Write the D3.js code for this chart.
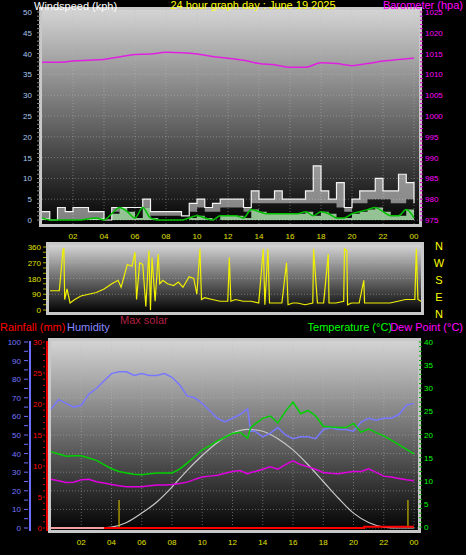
<!DOCTYPE html>
<html><head><meta charset="utf-8">
<script src="https://cdn.jsdelivr.net/npm/d3@7"></script>
<style>body{margin:0;background:#000}svg{display:block;font-family:"Liberation Sans",Arial,sans-serif}</style>
</head><body><div id="chart"></div>
<script>
// half-hourly wind (kph), hours 0..24
const windHours = d3.range(0, 24.5, 0.5);
const windGust = [2,0,3,2,3,3,2,2,0,3,3,3,3,5,2,2,2,2,1,4,5,3,4,5,5,5,3,7,5,5,7,5,5,5,7,13,7,5,9,3,5,7,7,10,7,7,11,9,4];
const windLow = [0,0,0,0,0,0,0,0,0,2,3,3,3,3,1,1,1,1,1,2,3,2,2,3,3,3,2,4,4,4,4,4,4,4,4,4,4,4,3,2,4,4,5,5,5,4,4,5,3];
const windAvg = [0.5,0,0,0,0,0,0.3,0.5,0,1.5,3,2,0.5,3,0.5,0,0,0,0,0.5,1,0.5,0,1,1,1,0.5,2.5,2,1.5,1.5,1.5,1.5,1.5,2,1,2,1.5,0.5,0.5,1.5,2,2.5,3,2,1,1,2.5,0.5];
// hourly barometer (hpa)
const baroHours = d3.range(0, 25);
const baro = [1012.9,1012.9,1013.2,1013.4,1013.6,1014.2,1014.8,1014.9,1015.3,1015.2,1014.9,1014.3,1013.9,1013.4,1012.6,1012.3,1011.7,1011.7,1012.8,1012.6,1012.1,1012.6,1013.2,1013.6,1013.9];
// wind direction [hour, degrees]
const dirHours = [0,0.6,0.85,0.9,0.95,1.1,1.3,1.6,2,2.5,3,3.5,4,4.4,4.6,5,5.3,5.5,5.6,5.8,6,6.2,6.4,6.5,6.6,6.8,7,7.1,7.3,7.6,8,8.3,8.6,9,9.3,9.5,9.7,9.8,10,10.5,11,11.5,11.6,11.7,12,12.5,13,13.5,13.8,13.9,14.1,14.2,14.5,15,15.3,15.4,15.7,16,16.5,17,17.05,17.3,17.7,18,18.05,18.5,19,19.05,19.2,19.25,19.5,20,20.3,20.35,20.7,21.5,22,22.5,23,23.6,23.7,23.8,24];
const dirVals = [110,110,350,350,60,120,40,60,80,90,100,120,150,170,130,260,250,330,60,270,260,20,340,0,300,50,320,150,170,150,140,160,130,190,180,90,350,60,70,60,50,50,300,50,60,50,50,40,350,30,350,40,40,40,270,30,40,40,30,40,350,40,40,320,40,40,50,350,340,30,40,40,170,40,40,40,40,50,60,60,350,60,50];
// humidity (%), temperature and dew point (°C)
const thHours = [0,0.5,1,1.5,2,2.5,3,3.5,4,4.5,5,5.5,6,6.5,7,7.5,8,8.5,9,9.5,10,10.5,11,11.5,12,12.5,13,13.2,13.5,14,14.5,15,15.5,16,16.5,17,17.5,18,18.5,19,19.5,20,20.5,21,21.5,22,22.5,23,23.5,24];
const humidity = [64,69,67,65,66,72,75,79,83,84,84,82,83,82,82,83,81,77,71,70,67,63,59,57,59,61,64,52,52,49,51,54,50,48,49,49,48,53,54,53,53,52,57,59,58,59,59,61,66,67];
const temperature = [16.3,15.8,15.3,15.4,15.4,14.9,14.4,13.5,12.6,12,11.7,11.4,11.3,11.5,11.7,11.7,11.7,12.5,13.8,15.2,16.7,17.6,18.6,19.4,20.2,20.5,19.2,21.5,22.3,23.5,24,22.5,25,27,24.5,25.2,24,21.8,21.6,21.5,21.5,22.4,20.5,21.2,20.4,19.7,18.8,17.8,16.8,15.8];
const dewPoint = [10.3,10,9.6,9.7,10.2,10.3,9.8,9.5,9.2,8.9,8.7,8.7,8.7,8.9,9.1,9.1,9.2,9.4,9.7,10.3,10.8,11,11.2,11.6,12,12.2,11.5,11.8,12,12.5,13,12.5,13.5,14.3,13.5,13,12.5,11.8,11.6,11.5,11.8,12,12,12.6,11.8,11,10.8,10.5,10.2,10];
const solarHours = d3.range(0, 25);
const maxSolar = [0,0,0,0,0.5,3,8,14,22,31,39,46,51,53,52,48,42,34,25,16,8,3,0.5,0,0];
const rainHours = [0,20.7,20.7,24];
const rain = [0,0,0.2,0.2];

const xLabels = ["02","04","06","08","10","12","14","16","18","20","22","00"];
const xTickHours = d3.range(2, 25, 2);

const W = 466, H = 555;
const svg = d3.select("#chart").append("svg").attr("width", W).attr("height", H);
const defs = svg.append("defs");
const grad = defs.append("linearGradient").attr("id", "bg").attr("x1", 0).attr("x2", 0).attr("y1", 0).attr("y2", 1);
grad.append("stop").attr("offset", "0%").attr("stop-color", "#d4d4d4");
grad.append("stop").attr("offset", "100%").attr("stop-color", "#030303");

function panel(x0, x1, y0, y1) {
	svg.append("rect").attr("x", x0 - 3).attr("y", y0 - 3).attr("width", x1 - x0 + 6).attr("height", y1 - y0 + 6).attr("fill", "#c8c8c8");
	svg.append("rect").attr("x", x0).attr("y", y0).attr("width", x1 - x0).attr("height", y1 - y0).attr("fill", "url(#bg)");
}
function text(x, y, s, color, size, anchor) {
	return svg.append("text").attr("x", x).attr("y", y).text(s).attr("fill", color)
		.attr("font-size", size).attr("text-anchor", anchor || "start");
}
function grid(x, yTicks, y, xTicks, x0, x1, y0, y1) {
	const g = svg.append("g").attr("stroke", "#bbb").attr("stroke-opacity", 0.45).attr("stroke-dasharray", "1,2");
	xTicks.forEach((h) => g.append("line").attr("x1", x(h)).attr("x2", x(h)).attr("y1", y0).attr("y2", y1));
	yTicks.forEach((v) => g.append("line").attr("x1", x0).attr("x2", x1).attr("y1", y(v)).attr("y2", y(v)));
}

// ---- top panel: wind + barometer
const xTop = d3.scaleLinear().domain([0, 24]).range([42, 414]);
const yWind = d3.scaleLinear().domain([0, 50]).range([220, 12]);
const yBaro = d3.scaleLinear().domain([975, 1025]).range([220, 12]);
panel(42, 419, 10, 224);
grid(xTop, d3.range(0, 51, 5), yWind, xTickHours, 42, 419, 10, 224);

d3.range(0, 51, 5).forEach((v) => text(32, yWind(v) + 3, v, "#a8c8f0", 8, "end"));
d3.range(0, 51).forEach((v) => svg.append("line").attr("x1", 37).attr("x2", 40).attr("y1", yWind(v)).attr("y2", yWind(v)).attr("stroke", "#888"));
d3.range(975, 1026, 5).forEach((v) => text(425, yBaro(v) + 3, v, "#f0f", 8));
d3.range(975, 1026).forEach((v) => svg.append("line").attr("x1", 420).attr("x2", 423).attr("y1", yBaro(v)).attr("y2", yBaro(v)).attr("stroke", "#c0c"));
xLabels.forEach((s, i) => text(xTop(xTickHours[i]), 239, s, "#e0e000", 8, "middle"));

text(34, 10, "Windspeed (kph)", "#fff", 11);
text(253, 9, "24 hour graph day : June 19 2025", "#ff0", 11, "middle");
text(463, 9, "Barometer (hpa)", "#f0f", 11, "end");

svg.append("path").datum(windGust)
	.attr("d", d3.area().x((d, i) => xTop(windHours[i])).y0((d, i) => yWind(windLow[i])).y1((d) => yWind(d)).curve(d3.curveStepAfter))
	.attr("fill", "#e8e8e8").attr("opacity", 0.55);
svg.append("path").datum(windAvg)
	.attr("d", d3.area().x((d, i) => xTop(windHours[i])).y0(yWind(0)).y1((d) => yWind(d)).curve(d3.curveStepAfter))
	.attr("fill", "#b8f0b8").attr("opacity", 0.8);
svg.append("path").datum(windGust)
	.attr("d", d3.line().x((d, i) => xTop(windHours[i])).y((d) => yWind(d)).curve(d3.curveStepAfter))
	.attr("fill", "none").attr("stroke", "#f4f4f4").attr("stroke-width", 1.2);
svg.append("path").datum(windAvg)
	.attr("d", d3.line().x((d, i) => xTop(windHours[i])).y((d) => yWind(d)).curve(d3.curveMonotoneX))
	.attr("fill", "none").attr("stroke", "#00c000").attr("stroke-width", 1.5);
svg.append("path").datum(baro)
	.attr("d", d3.line().x((d, i) => xTop(baroHours[i])).y((d) => yBaro(d)).curve(d3.curveMonotoneX))
	.attr("fill", "none").attr("stroke", "#e020e0").attr("stroke-width", 1.5);

// ---- wind direction panel
const xDir = d3.scaleLinear().domain([0, 24]).range([50, 421]);
const yDir = d3.scaleLinear().domain([0, 360]).range([310, 247]);
panel(49, 421, 245, 312);
grid(xDir, [90, 180, 270], yDir, [], 49, 421, 245, 312);
[0, 90, 180, 270, 360].forEach((v) => text(41, yDir(v) + 3, v, "#e0e000", 8, "end"));
d3.range(0, 361, 30).forEach((v) => svg.append("line").attr("x1", 43).attr("x2", 46).attr("y1", yDir(v)).attr("y2", yDir(v)).attr("stroke", "#aa0"));
["N", "W", "S", "E", "N"].forEach((s, i) => text(439, 250 + i * 17, s, "#ff0", 11, "middle"));
svg.append("path").datum(dirVals)
	.attr("d", d3.line().x((d, i) => xDir(dirHours[i])).y((d) => yDir(d)))
	.attr("fill", "none").attr("stroke", "#f0f000").attr("stroke-width", 1.2);

// ---- bottom panel
text(120, 324, "Max solar", "#b02040", 11);
text(0, 331, "Rainfall (mm)", "#f00", 11);
text(67, 331, "Humidity", "#8888ff", 11);
text(392, 331, "Temperature (°C)", "#0f0", 11, "end");
text(463, 331, "Dew Point (°C)", "#f0f", 11, "end");

const xBot = d3.scaleLinear().domain([0, 24]).range([51, 414]);
const yHum = d3.scaleLinear().domain([0, 100]).range([528, 342]);
const yRain = d3.scaleLinear().domain([0, 30]).range([528, 342]);
const yTemp = d3.scaleLinear().domain([0, 40]).range([527, 342]);
panel(51, 418, 341, 530);
grid(xBot, d3.range(0, 101, 10), yHum, xTickHours, 51, 418, 341, 530);

svg.append("rect").attr("x", 29).attr("y", 341).attr("width", 2).attr("height", 190).attr("fill", "#6f6fff");
svg.append("rect").attr("x", 46).attr("y", 341).attr("width", 2).attr("height", 190).attr("fill", "#e00");
d3.range(0, 101, 10).forEach((v) => text(21, yHum(v) + 3, v, "#7878ff", 8, "end"));
d3.range(0, 101, 5).forEach((v) => svg.append("line").attr("x1", 24).attr("x2", 28).attr("y1", yHum(v)).attr("y2", yHum(v)).attr("stroke", "#6f6fff"));
d3.range(0, 31, 5).forEach((v) => text(42, yRain(v) + 3, v, "#f00", 8, "end"));
d3.range(0, 31).forEach((v) => svg.append("line").attr("x1", 43).attr("x2", 45).attr("y1", yRain(v)).attr("y2", yRain(v)).attr("stroke", "#c00"));
d3.range(0, 41, 5).forEach((v) => text(424, yTemp(v) + 3, v, "#0f0", 8));
d3.range(0, 41).forEach((v) => svg.append("line").attr("x1", 419).attr("x2", 422).attr("y1", yTemp(v)).attr("y2", yTemp(v)).attr("stroke", "#0a0"));
xLabels.forEach((s, i) => text(xBot(xTickHours[i]), 545, s, "#e0e000", 8, "middle"));

svg.append("path").datum(maxSolar)
	.attr("d", d3.line().x((d, i) => xBot(solarHours[i])).y((d) => yHum(d)).curve(d3.curveMonotoneX))
	.attr("fill", "none").attr("stroke", "#c8c8c8").attr("stroke-width", 1.2);
[[4.5, 15], [23.6, 15]].forEach(([h, v]) => svg.append("line").attr("x1", xBot(h)).attr("x2", xBot(h))
	.attr("y1", yHum(0)).attr("y2", yHum(v)).attr("stroke", "#c8b400").attr("stroke-width", 1.2));
svg.append("path").datum(rain)
	.attr("d", d3.line().x((d, i) => xBot(rainHours[i])).y((d) => yRain(d)))
	.attr("fill", "none").attr("stroke", "#f00").attr("stroke-width", 2);
svg.append("line").attr("x1", xBot(0)).attr("x2", xBot(3.5)).attr("y1", yRain(0)).attr("y2", yRain(0)).attr("stroke", "#f0a0a0").attr("stroke-width", 2);

const lineTH = (arr) => d3.line().x((d, i) => xBot(thHours[i])).y((d) => arr(d));
svg.append("path").datum(humidity).attr("d", lineTH(yHum)).attr("fill", "none").attr("stroke", "#7878ff").attr("stroke-width", 1.5);
svg.append("path").datum(temperature).attr("d", lineTH(yTemp)).attr("fill", "none").attr("stroke", "#00d000").attr("stroke-width", 1.5);
svg.append("path").datum(dewPoint).attr("d", lineTH(yTemp)).attr("fill", "none").attr("stroke", "#e000e0").attr("stroke-width", 1.5);
</script></body></html>
